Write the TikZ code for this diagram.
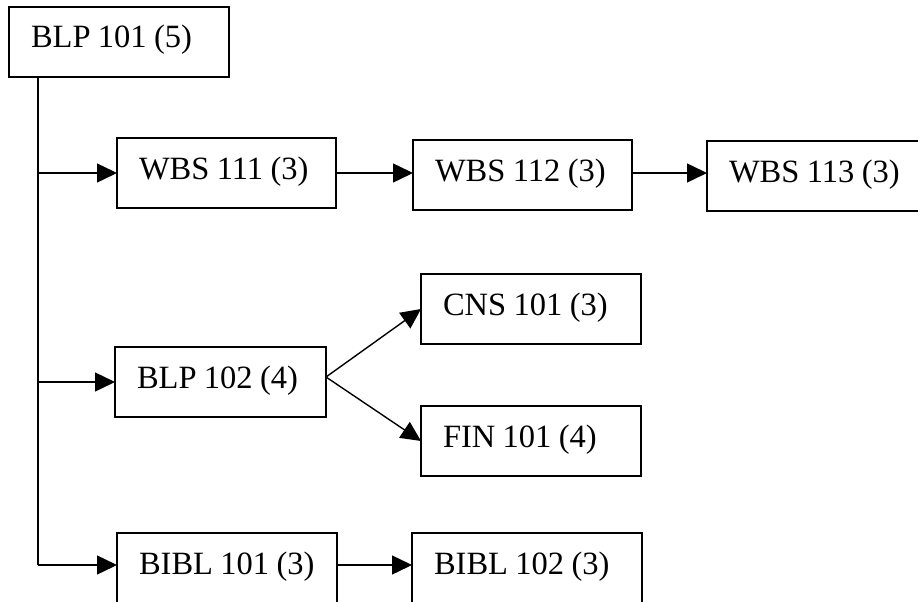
\documentclass[tikz,border=0pt]{standalone}
\usepackage{fontspec}
\setmainfont{Liberation Serif}
\usetikzlibrary{arrows.meta}
\begin{document}
\begin{tikzpicture}[x=1pt,y=-1pt,
  box/.style={draw,line width=1.6pt,rectangle,anchor=north west,minimum height=70pt,
    inner xsep=22pt,inner ysep=0pt,outer sep=0pt,text height=22pt,text depth=10pt,
    align=left,font=\fontsize{32.5}{36}\selectfont,
    execute at begin node={\spaceskip=7.4pt\relax}},
  ln/.style={line width=1.4pt},
  arr/.style={ln,-{Triangle[length=20pt,width=19pt]}}]
\useasboundingbox (0,0) rectangle (918,602);
\clip (0,0) rectangle (918,602);
\node[box,minimum width=220pt,text width=176pt] (b101) at (9,7) {\mbox{BLP 101 (5)}};
\node[box,minimum width=219pt,text width=175pt] (w111) at (117,138) {\mbox{WBS 111 (3)}};
\node[box,minimum width=219pt,text width=175pt] (w112) at (413,140) {\mbox{WBS 112 (3)}};
\node[box,minimum width=224pt,text width=180pt] (w113) at (707,141) {\mbox{WBS 113 (3)}};
\node[box,minimum width=211pt,text width=167pt] (b102) at (115,347) {\mbox{BLP 102 (4)}};
\node[box,minimum width=220pt,text width=176pt] (cns) at (421,274) {\mbox{CNS 101 (3)}};
\node[box,minimum width=220pt,text width=176pt] (fin) at (421,406) {\mbox{FIN 101 (4)}};
\node[box,minimum width=220pt,text width=176pt] (bib1) at (117,533) {\mbox{BIBL 101 (3)}};
\node[box,minimum width=230pt,text width=186pt] (bib2) at (412,533) {\mbox{BIBL 102 (3)}};
\coordinate (top) at (38,77);
\coordinate (j1) at (38,173);
\coordinate (j2) at (38,382);
\coordinate (j3) at (38,565);
\coordinate (bo) at (326,377);
\draw[ln] (top) -- (j3);
\draw[arr] (j1) -- (j1 -| w111.west);
\draw[arr] (j2) -- (j2 -| b102.west);
\draw[arr] (j3) -- (j3 -| bib1.west);
\draw[arr] (j1 -| w111.east) -- (j1 -| w112.west);
\draw[arr] (j1 -| w112.east) -- (j1 -| w113.west);
\draw[arr] (j3 -| bib1.east) -- (j3 -| bib2.west);
\draw[arr] (bo) -- (cns.west);
\draw[arr] (bo) -- (fin.west);
\end{tikzpicture}
\end{document}
